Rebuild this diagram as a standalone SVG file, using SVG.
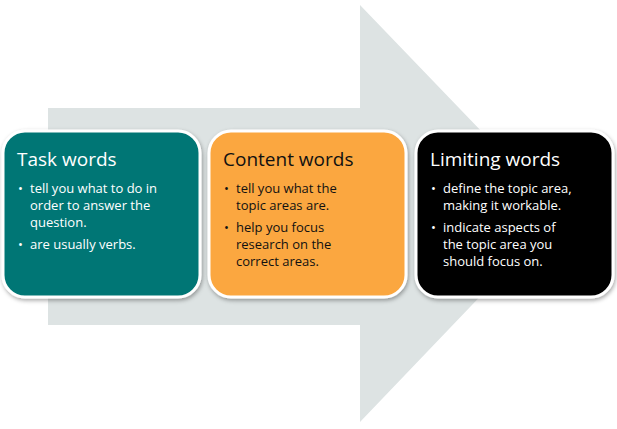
<svg xmlns="http://www.w3.org/2000/svg" width="617" height="429" viewBox="0 0 617 429">
<defs>
<style>
.box{stroke:#fff;stroke-width:3}
.t{font-family:"Open Sans","Liberation Sans",sans-serif;font-size:19px}
.b{font-family:"Open Sans","Liberation Sans",sans-serif;font-size:13px}
.w{fill:#fff}
</style>
<filter id="sh" x="-10%" y="-10%" width="125%" height="125%"><feDropShadow dx="1" dy="2" stdDeviation="2" flood-color="#000" flood-opacity="0.35"/></filter>
</defs>
<rect width="617" height="429" fill="#fff"/>
<g id="arrow"><polygon points="48,108 360,108 360,5 560,213 360,422 360,325 48,325" fill="#dde3e3"/></g>
<g id="task">
<rect class="box" x="3" y="131" width="197" height="166" rx="22" fill="#007674" filter="url(#sh)"/>
<text class="t w" x="17" y="166">Task words</text>
<text class="b w"><tspan x="18" y="193">•</tspan><tspan x="30" y="193">tell you what to do in</tspan><tspan x="30" y="210">order to answer the</tspan><tspan x="30" y="227">question.</tspan><tspan x="18" y="249">•</tspan><tspan x="30" y="249">are usually verbs.</tspan></text>
</g>
<g id="content">
<rect class="box" x="209" y="131" width="197" height="166" rx="22" fill="#fba73f" filter="url(#sh)"/>
<text class="t" x="223" y="166" fill="#111">Content words</text>
<text class="b" fill="#111"><tspan x="224" y="193">•</tspan><tspan x="236" y="193">tell you what the</tspan><tspan x="236" y="210">topic areas are.</tspan><tspan x="224" y="232">•</tspan><tspan x="236" y="232">help you focus</tspan><tspan x="236" y="249">research on the</tspan><tspan x="236" y="266">correct areas.</tspan></text>
</g>
<g id="limiting">
<rect class="box" x="416" y="131" width="197" height="166" rx="22" fill="#000" filter="url(#sh)"/>
<text class="t w" x="430" y="166">Limiting words</text>
<text class="b w"><tspan x="431" y="193">•</tspan><tspan x="443" y="193">define the topic area,</tspan><tspan x="443" y="210">making it workable.</tspan><tspan x="431" y="232">•</tspan><tspan x="443" y="232">indicate aspects of</tspan><tspan x="443" y="249">the topic area you</tspan><tspan x="443" y="266">should focus on.</tspan></text>
</g>
<g id="connectors"></g>
</svg>
